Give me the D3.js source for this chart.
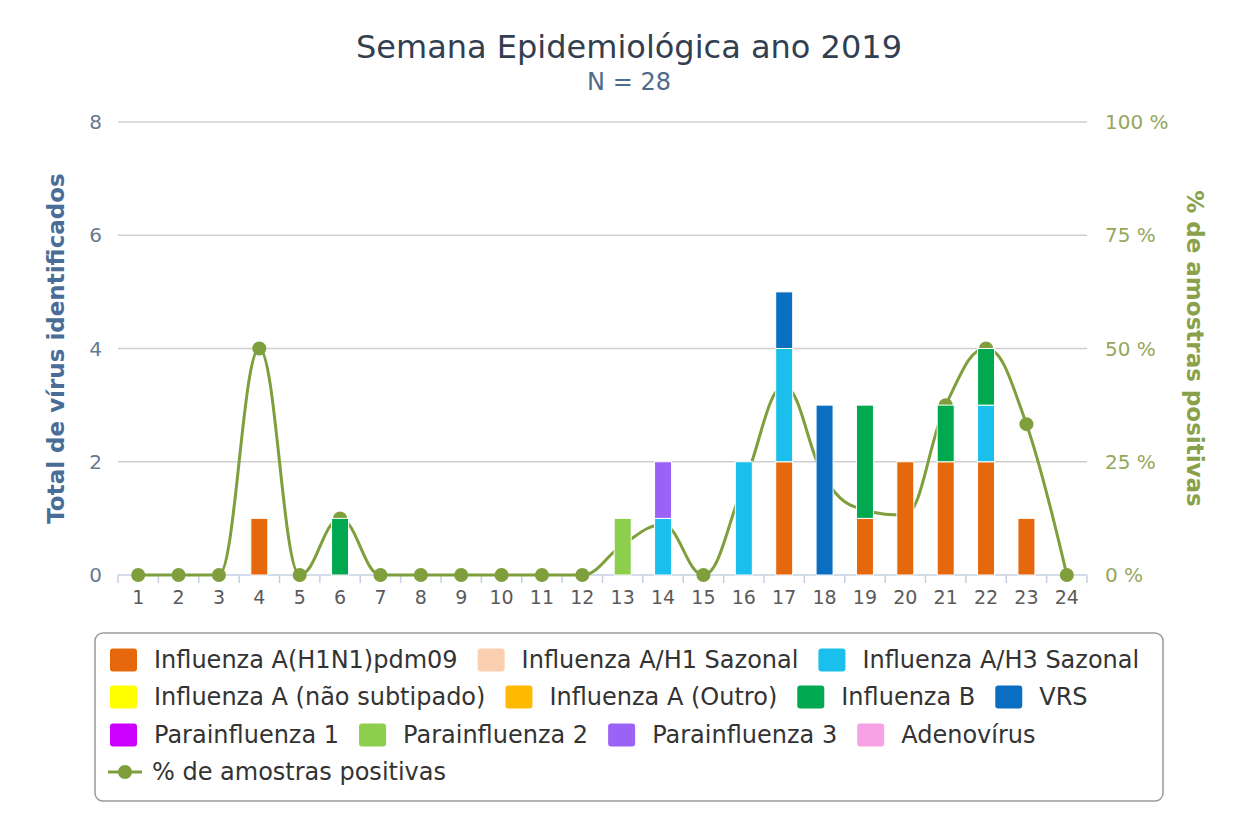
<!DOCTYPE html>
<html><head><meta charset="utf-8">
<script src="https://cdn.jsdelivr.net/npm/d3@7"></script>
<style>
html,body{margin:0;padding:0;background:#fff;}
svg{display:block;font-family:"DejaVu Sans",sans-serif;}
</style></head>
<body><svg id="chart" width="1242" height="826"></svg>
<script>
// ---- data ----
const weeks = d3.range(1, 25).map(String);
const seriesNames = ["Influenza A(H1N1)pdm09","Influenza A/H1 Sazonal","Influenza A/H3 Sazonal","Influenza A (não subtipado)","Influenza A (Outro)","Influenza B","VRS","Parainfluenza 1","Parainfluenza 2","Parainfluenza 3","Adenovírus"];
const seriesColors = ["#e5680c","#fbd0b0","#1bbfec","#ffff00","#ffb900","#00a84f","#0a6fc2","#cc00ff","#8dcf4c","#9b63f5","#f8a2e6"];
//                     1 2 3 4 5 6 7 8 9 10 11 12 13 14 15 16 17 18 19 20 21 22 23 24
const h1n1       = [0,0,0,1,0,0,0,0,0,0,0,0,0,0,0,0,2,0,1,2,2,2,1,0];
const h1Sazonal  = [0,0,0,0,0,0,0,0,0,0,0,0,0,0,0,0,0,0,0,0,0,0,0,0];
const h3Sazonal  = [0,0,0,0,0,0,0,0,0,0,0,0,0,1,0,2,2,0,0,0,0,1,0,0];
const naoSubtip  = [0,0,0,0,0,0,0,0,0,0,0,0,0,0,0,0,0,0,0,0,0,0,0,0];
const outro      = [0,0,0,0,0,0,0,0,0,0,0,0,0,0,0,0,0,0,0,0,0,0,0,0];
const influB     = [0,0,0,0,0,1,0,0,0,0,0,0,0,0,0,0,0,0,2,0,1,1,0,0];
const vrs        = [0,0,0,0,0,0,0,0,0,0,0,0,0,0,0,0,1,3,0,0,0,0,0,0];
const para1      = [0,0,0,0,0,0,0,0,0,0,0,0,0,0,0,0,0,0,0,0,0,0,0,0];
const para2      = [0,0,0,0,0,0,0,0,0,0,0,0,1,0,0,0,0,0,0,0,0,0,0,0];
const para3      = [0,0,0,0,0,0,0,0,0,0,0,0,0,1,0,0,0,0,0,0,0,0,0,0];
const adeno      = [0,0,0,0,0,0,0,0,0,0,0,0,0,0,0,0,0,0,0,0,0,0,0,0];
const pctPositive = [0,0,0,50,0,12.5,0,0,0,0,0,0,6.7,11.1,0,20,41.7,21.4,14.3,13.3,37.5,50,33.3,0];
const leftTicks = [0,2,4,6,8];
const rightTicks = [0,25,50,75,100];
const titleText = "Semana Epidemiológica ano 2019";
const subtitleText = "N = 28";
const leftTitle = "Total de vírus identificados";
const rightTitle = "% de amostras positivas";
const lineName = "% de amostras positivas";
const lineColor = "#7f9e3c";

const seriesValues = [h1n1,h1Sazonal,h3Sazonal,naoSubtip,outro,influB,vrs,para1,para2,para3,adeno];

// ---- layout ----
const svg = d3.select("#chart");
const L = 118, R = 1087, T = 122, B = 575;
const x = d3.scaleBand().domain(weeks).range([L, R]).padding(0);
const yL = d3.scaleLinear().domain([0, 8]).range([B, T]);
const yR = d3.scaleLinear().domain([0, 100]).range([B, T]);

// title
svg.append("text").attr("x", 629).attr("y", 58).attr("text-anchor","middle")
  .attr("font-size", 32).attr("fill", "#333f50").text(titleText);
svg.append("text").attr("x", 629).attr("y", 90).attr("text-anchor","middle")
  .attr("font-size", 24).attr("fill", "#4f6b8c").text(subtitleText);

// gridlines
svg.append("g").selectAll("line").data(leftTicks.filter(d => d > 0)).join("line")
  .attr("x1", L).attr("x2", R).attr("y1", d => yL(d)).attr("y2", d => yL(d))
  .attr("stroke", "#cfcfcf").attr("stroke-width", 1.5);

// left axis labels
svg.append("g").selectAll("text").data(leftTicks).join("text")
  .attr("x", 102).attr("y", d => yL(d) + 7).attr("text-anchor", "end")
  .attr("font-size", 20).attr("fill", "#667a90").text(d => d);
// right axis labels
svg.append("g").selectAll("text").data(rightTicks).join("text")
  .attr("x", 1105).attr("y", d => yR(d) + 7).attr("text-anchor", "start")
  .attr("font-size", 20).attr("fill", "#94a85c").text(d => d + " %");

// axis titles
svg.append("text").attr("transform", `translate(64,${(T+B)/2}) rotate(-90)`)
  .attr("text-anchor","middle").attr("font-size", 23).attr("font-weight","bold")
  .attr("fill", "#4a6d98").text(leftTitle);
svg.append("text").attr("transform", `translate(1187,${(T+B)/2}) rotate(90)`)
  .attr("text-anchor","middle").attr("font-size", 23).attr("font-weight","bold")
  .attr("fill", "#8aa14b").text(rightTitle);

// x axis
const xAxisG = svg.append("g");
xAxisG.append("line").attr("x1", L).attr("x2", R).attr("y1", B).attr("y2", B)
  .attr("stroke", "#c4d0e0").attr("stroke-width", 1.5);
const edges = weeks.map(w => x(w)).concat([x(weeks[weeks.length-1]) + x.bandwidth()]);
xAxisG.selectAll("line.tick").data(edges).join("line").attr("class","tick")
  .attr("x1", d => d).attr("x2", d => d).attr("y1", B).attr("y2", B + 8)
  .attr("stroke", "#c4d0e0").attr("stroke-width", 1.5);
xAxisG.selectAll("text").data(weeks).join("text")
  .attr("x", d => x(d) + x.bandwidth()/2).attr("y", 604).attr("text-anchor","middle")
  .attr("font-size", 19).attr("fill", "#5a5a5a").text(d => d);

// spline (Highcharts-style)
const pts = weeks.map((w, i) => [x(w) + x.bandwidth()/2, yR(pctPositive[i])]);
function splinePath(p) {
  const path = d3.path();
  const sm = 1.5, den = sm + 1;
  const ctrl = p.map((pt, i) => {
    if (i === 0 || i === p.length - 1) return null;
    const [lx, ly] = p[i-1], [px, py] = pt, [nx, ny] = p[i+1];
    let lcx = (sm*px + lx)/den, lcy = (sm*py + ly)/den;
    let rcx = (sm*px + nx)/den, rcy = (sm*py + ny)/den;
    let corr = 0;
    if (rcx !== lcx) corr = ((rcy - lcy) * (rcx - px)) / (rcx - lcx) + py - rcy;
    lcy += corr; rcy += corr;
    if (lcy > ly && lcy > py) { lcy = Math.max(ly, py); rcy = 2*py - lcy; }
    else if (lcy < ly && lcy < py) { lcy = Math.min(ly, py); rcy = 2*py - lcy; }
    if (rcy > ny && rcy > py) { rcy = Math.max(ny, py); lcy = 2*py - rcy; }
    else if (rcy < ny && rcy < py) { rcy = Math.min(ny, py); lcy = 2*py - rcy; }
    return {lcx, lcy, rcx, rcy};
  });
  path.moveTo(p[0][0], p[0][1]);
  for (let i = 1; i < p.length; i++) {
    const prev = ctrl[i-1], cur = ctrl[i];
    const c1x = prev ? prev.rcx : p[i-1][0], c1y = prev ? prev.rcy : p[i-1][1];
    const c2x = cur ? cur.lcx : p[i][0], c2y = cur ? cur.lcy : p[i][1];
    path.bezierCurveTo(c1x, c1y, c2x, c2y, p[i][0], p[i][1]);
  }
  return path.toString();
}
svg.append("path").attr("d", splinePath(pts)).attr("fill","none")
  .attr("stroke", lineColor).attr("stroke-width", 3);
svg.append("g").selectAll("circle").data(pts).join("circle")
  .attr("cx", d => d[0]).attr("cy", d => d[1]).attr("r", 7).attr("fill", lineColor);

// stacked bars
const table = weeks.map((w, i) => {
  const o = {week: w};
  seriesNames.forEach((s, k) => o[s] = seriesValues[k][i]);
  return o;
});
const stacked = d3.stack().keys(seriesNames)(table);
const barW = 17;
svg.append("g").selectAll("g").data(stacked).join("g")
  .attr("fill", (d, k) => seriesColors[k])
  .selectAll("rect").data(d => d.filter(v => v[1] - v[0] > 0)).join("rect")
  .attr("x", d => x(d.data.week) + x.bandwidth()/2 - barW/2)
  .attr("width", barW)
  .attr("y", d => yL(d[1]))
  .attr("height", d => yL(d[0]) - yL(d[1]))
  .attr("stroke", "#fff").attr("stroke-width", 1);

// legend
const lg = svg.append("g");
lg.append("rect").attr("x", 95).attr("y", 633).attr("width", 1068).attr("height", 168)
  .attr("rx", 8).attr("fill", "none").attr("stroke", "#9a9a9a").attr("stroke-width", 1.5);
const rows = [[0,1,2],[3,4,5,6],[7,8,9,10]];
const rowY = [660, 697, 735, 772];
const symW = 27, symH = 23, symPad = 17, itemDist = 20, legFont = 24;
rows.forEach((row, r) => {
  let cx = 110;
  row.forEach(k => {
    lg.append("rect").attr("x", cx).attr("y", rowY[r] - symH/2).attr("width", symW).attr("height", symH)
      .attr("rx", 3).attr("fill", seriesColors[k]);
    const t = lg.append("text").attr("x", cx + symW + symPad).attr("y", rowY[r] + 8)
      .attr("font-size", legFont).attr("fill", "#333").text(seriesNames[k]);
    cx += symW + symPad + t.node().getComputedTextLength() + itemDist;
  });
});
lg.append("line").attr("x1", 108).attr("x2", 142).attr("y1", rowY[3]).attr("y2", rowY[3])
  .attr("stroke", lineColor).attr("stroke-width", 3);
lg.append("circle").attr("cx", 125).attr("cy", rowY[3]).attr("r", 7).attr("fill", lineColor);
lg.append("text").attr("x", 152).attr("y", rowY[3] + 8).attr("font-size", legFont)
  .attr("fill", "#333").text(lineName);
</script></body></html>
